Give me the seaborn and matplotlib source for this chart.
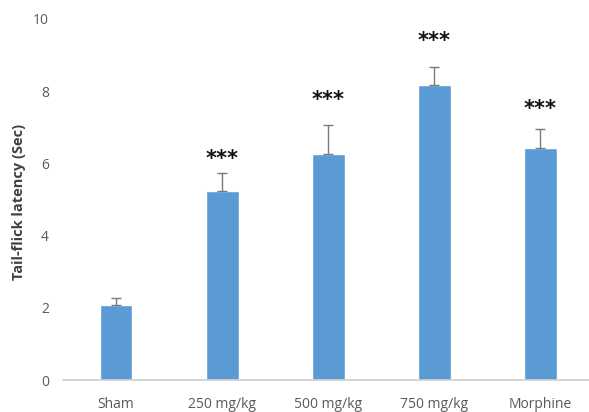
import matplotlib
matplotlib.use("Agg")
import matplotlib.pyplot as plt
import seaborn as sns
import pandas as pd
import numpy as np

categories = ["Sham", "250 mg/kg", "500 mg/kg", "750 mg/kg", "Morphine"]
means = [2.07, 5.24, 6.27, 8.17, 6.44]
errors = [0.2, 0.5, 0.78, 0.5, 0.52]
stars = ["", "***", "***", "***", "***"]
star_y = [0, 6.12, 7.76, 9.4, 7.5]

sns.set_theme(style="white")
plt.rcParams['font.family'] = ['Open Sans', 'DejaVu Sans']

df = pd.DataFrame({"group": categories, "latency": means})

fig = plt.figure(figsize=(5.89, 4.12), dpi=100)
ax = fig.add_axes([63/589, 32/412, (589-63)/589, (380-19)/412])

sns.barplot(data=df, x="group", y="latency", color="#5B9BD5", width=0.31,
            saturation=1, ax=ax, errorbar=None)
x = np.arange(len(categories))
ax.errorbar(x, means, yerr=[np.zeros(len(errors)), errors], fmt="none",
            ecolor="#7a7a7a", elinewidth=1.0, capsize=3.5, capthick=1.0)
for xi, sy, s in zip(x, star_y, stars):
    if s:
        ax.text(xi, sy, s, ha="center", va="center",
                fontsize=15, fontweight="bold", color="#111111",
                family="DejaVu Sans")

ax.set_xlim(-0.5, 4.46)
ax.set_ylim(0, 10)
ax.set_yticks([0, 2, 4, 6, 8, 10])
ax.set_xlabel("")
ax.set_ylabel("Tail-flick latency (Sec)", fontsize=10.5, fontweight="bold",
              color="#404040")
ax.yaxis.set_label_coords(-0.07, 0.494)
for s in ["top", "right", "left"]:
    ax.spines[s].set_visible(False)
ax.spines["bottom"].set_color("#d0d0d0")
ax.tick_params(axis="both", length=0, colors="#595959")
ax.tick_params(axis="x", pad=12, labelsize=10)
ax.tick_params(axis="y", pad=10, labelsize=10)

fig.savefig("out.png", dpi=100)
